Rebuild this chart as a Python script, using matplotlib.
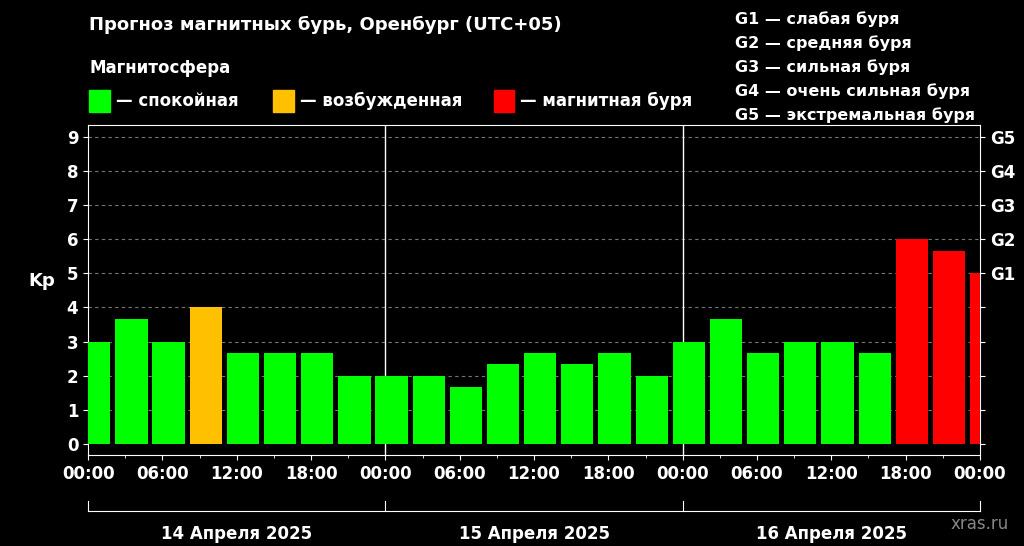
import numpy as np
import matplotlib.pyplot as plt

kp = [3, 3.67, 3, 4, 2.67, 2.67, 2.67, 2,
      2, 2, 1.67, 2.33, 2.67, 2.33, 2.67, 2,
      3, 3.67, 2.67, 3, 3, 2.67, 6, 5.67, 5]
hours = [0.5 + 3 * i for i in range(len(kp))]
days = ["14 Апреля 2025", "15 Апреля 2025", "16 Апреля 2025"]
time_labels = ["00:00", "06:00", "12:00", "18:00"] * 3 + ["00:00"]
g_labels = ["G1", "G2", "G3", "G4", "G5"]
legend_g = ["G1 — слабая буря", "G2 — средняя буря", "G3 — сильная буря",
            "G4 — очень сильная буря", "G5 — экстремальная буря"]

GREEN, ORANGE, RED = "#00ff00", "#ffc000", "#ff0000"


def color_for(v):
    if v >= 5:
        return RED
    if v >= 4:
        return ORANGE
    return GREEN


plt.rcParams['font.family'] = ['DejaVu Sans']
fig = plt.figure(figsize=(10.24, 5.46), dpi=100, facecolor="black")
ax = fig.add_axes([0.086, 0.167, 0.871, 0.604], facecolor="black")

ax.bar(hours, kp, width=2.6, color=[color_for(v) for v in kp], zorder=3)
ax.set_xlim(0, 72)
ax.set_ylim(-0.32, 9.35)

for y in range(1, 10):
    ax.axhline(y, color="#777777", linestyle=(0, (3, 3)), linewidth=0.8, zorder=1)
for x in (24, 48):
    ax.axvline(x, color="white", linewidth=1, zorder=2)

for s in ax.spines.values():
    s.set_color("white")
ax.set_xticks(range(0, 73, 6))
ax.set_xticklabels(time_labels, color="white", fontsize=12, fontweight="bold")
ax.set_xticks(range(0, 73, 3), minor=True)
ax.set_yticks(range(0, 10))
ax.set_yticklabels([str(i) for i in range(10)], color="white", fontsize=12, fontweight="bold")
ax.tick_params(colors="white", which="both")
ax.set_ylabel("Kp", color="white", fontsize=13, fontweight="bold", rotation=0, labelpad=18)

ax2 = ax.twinx()
ax2.set_ylim(ax.get_ylim())
ax2.set_yticks(range(0, 10))
ax2.set_yticklabels([""] * 5 + g_labels, color="white", fontsize=12, fontweight="bold")
ax2.tick_params(colors="white")
for s in ax2.spines.values():
    s.set_visible(False)

# day brackets below the axis
tr = ax.get_xaxis_transform()
ax.plot([0, 72], [-0.17, -0.17], color="white", lw=0.8, transform=tr, clip_on=False)
for x in (0, 24, 48, 72):
    ax.plot([x, x], [-0.17, -0.14], color="white", lw=0.8, transform=tr, clip_on=False)
for i, d in enumerate(days):
    ax.text(12 + 24 * i, -0.24, d, color="white", fontsize=12, fontweight="bold",
            ha="center", va="center", transform=tr)

fig.text(0.087, 0.955, "Прогноз магнитных бурь, Оренбург (UTC+05)", color="white",
         fontsize=13, fontweight="bold", va="center")
fig.text(0.087, 0.875, "Магнитосфера", color="white", fontsize=12, fontweight="bold", va="center")
for xp, c, t in [(0.087, GREEN, "— спокойная"), (0.267, ORANGE, "— возбужденная"),
                 (0.482, RED, "— магнитная буря")]:
    fig.patches.append(plt.Rectangle((xp, 0.795), 0.02, 0.04, color=c, transform=fig.transFigure))
    fig.text(xp + 0.026, 0.815, t, color="white", fontsize=12, fontweight="bold", va="center")
for i, t in enumerate(legend_g):
    fig.text(0.718, 0.965 - i * 0.044, t, color="white", fontsize=11.5, fontweight="bold", va="center")
fig.text(0.985, 0.04, "xras.ru", color="#888888", fontsize=12, ha="right", va="center")

fig.savefig("out.png", facecolor="black")
